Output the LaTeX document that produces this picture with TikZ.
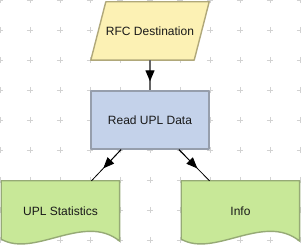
\documentclass[tikz,border=0pt]{standalone}
\usepackage{fontspec}
\setmainfont{Liberation Sans}
\usetikzlibrary{arrows.meta, calc}
\pgfdeclarelayer{background}
\pgfsetlayers{background,main}
\definecolor{rfcfill}{RGB}{252,241,180}
\definecolor{rfcline}{RGB}{176,168,122}
\definecolor{readfill}{RGB}{196,210,234}
\definecolor{readline}{RGB}{150,158,172}
\definecolor{docfill}{RGB}{200,232,152}
\definecolor{docline}{RGB}{150,170,118}

\begin{document}
\begin{tikzpicture}[x=1pt, y=-1pt,
  every node/.style={font=\fontsize{12}{14}\selectfont, text=black!90},
  border/.style={line width=1.4pt, line join=round},
  source/.style={rectangle, minimum width=118pt, minimum height=58pt, inner sep=0pt},
  process/.style={border, rectangle, minimum width=118pt, minimum height=58pt, inner sep=0pt,
    draw=readline, fill=readfill},
  output/.style={rectangle, minimum width=118pt, minimum height=60pt, inner sep=0pt},
  tip/.style={-{Triangle[length=11pt, width=9pt, color=black]}}]
  \useasboundingbox (0,0) rectangle (301,248);
  % nodes
  \node[source] (rfc) at (150,31) {RFC Destination};
  \node[process] (read) at (150,120) {Read UPL Data};
  \node[output] (stats) at (60.5,211) {UPL Statistics};
  \node[output] (info) at (240.5,211) {Info};
  \begin{pgfonlayer}{background}
    % grid marks
    \foreach \gx in {0,30,...,300}
      \foreach \gy in {0,30,...,240}
        \draw[gray!35, line width=0.8pt] (\gx-3,\gy) -- (\gx+3,\gy) (\gx,\gy-3) -- (\gx,\gy+3);
    % parallelogram
    \draw[border, draw=rfcline, fill=rfcfill] ($(rfc.north west)+(15,0)$) -- (rfc.north east)
      -- ($(rfc.south east)+(-15,0)$) -- (rfc.south west) -- cycle;
    % document shapes
    \foreach \d in {stats, info}
      \draw[border, draw=docline, fill=docfill] (\d.north west) -- (\d.north east) -- (\d.south east)
        .. controls ($(\d.south west)+(83,-29)$) and ($(\d.south west)+(33,17)$) .. ($(\d.south west)+(0,-2)$)
        -- cycle;
  \end{pgfonlayer}
  % connectors
  \draw[line width=1.4pt, black!60] (rfc.south) -- (read.north);
  \draw[tip, line width=1.4pt, black!60] (rfc.south) -- ($(rfc.south)!0.7!(read.north)$);
  \coordinate (read left) at ($(read.south)+(-29,0)$);
  \coordinate (read right) at ($(read.south)+(29,0)$);
  \coordinate (stats in) at ($(stats.north)+(31,0)$);
  \coordinate (info in) at ($(info.north)+(-31,0)$);
  \draw[line width=0.8pt] (read left) -- (stats in);
  \draw[tip, line width=0.8pt] (read left) -- ($(read left)!0.6!(stats in)$);
  \draw[line width=0.8pt] (read right) -- (info in);
  \draw[tip, line width=0.8pt] (read right) -- ($(read right)!0.6!(info in)$);
\end{tikzpicture}
\end{document}
